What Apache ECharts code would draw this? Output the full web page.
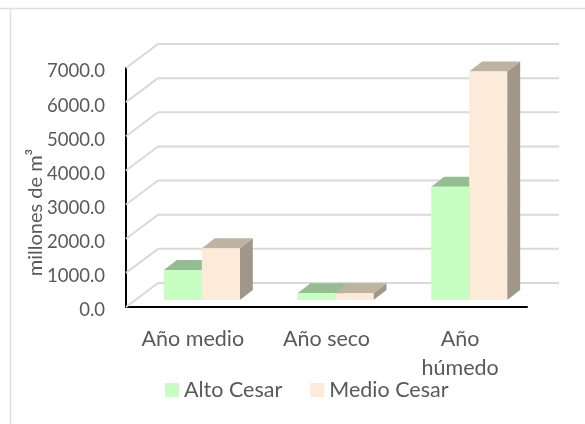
<!DOCTYPE html>
<html>
<head>
<meta charset="utf-8">
<style>
  html, body { margin: 0; padding: 0; background: #fff; }
  #chart { width: 585px; height: 424px; }
</style>
<script src="https://cdn.jsdelivr.net/npm/echarts@6/dist/echarts.min.js"></script>
</head>
<body>
<div id="chart"></div>
<script>
var categories = ['Año medio', 'Año seco', 'Año\nhúmedo'];
var altoCesar = [880, 195, 3320];
var medioCesar = [1515, 195, 6695];
var gridTicks = [0, 1000, 2000, 3000, 4000, 5000, 6000, 7000];

var fontName = 'Lato';
var textColor = '#595959';

// fake 3d: wall sits behind the axis plane, bars sit halfway in
var wallDx = 32, wallDy = -24;
var barDx = 9, barDy = -7;
var depthDx = 13, depthDy = -10;
var barW = 38;

var mychart = echarts.init(document.getElementById('chart'));

function wallItem(params, api) {
    var p = api.coord([0, api.value(0)]);
    var rect = params.coordSys;
    var x0 = rect.x, y0 = p[1];
    var x1 = x0 + wallDx, y1 = y0 + wallDy;
    var style = { stroke: '#d9d9d9', lineWidth: 2, fill: 'none' };
    return {
        type: 'group',
        silent: true,
        children: [
            { type: 'line', shape: { x1: x0, y1: y0, x2: x1, y2: y1 }, style: style },
            { type: 'line', shape: { x1: x1, y1: y1, x2: x1 + rect.width, y2: y1 }, style: style }
        ]
    };
}

function barItem(offset, front, top, side) {
    return function (params, api) {
        var base = api.coord([api.value(0), 0]);
        var head = api.coord([api.value(0), api.value(1)]);
        var left = base[0] + barDx + offset * barW;
        var right = left + barW;
        var yb = base[1] + barDy;
        var yt = head[1] + barDy;
        return {
            type: 'group',
            children: [
                { type: 'polygon', shape: { points: [[right, yb], [right + depthDx, yb + depthDy], [right + depthDx, yt + depthDy], [right, yt]] }, style: { fill: side } },
                { type: 'polygon', shape: { points: [[left, yt], [left + depthDx, yt + depthDy], [right + depthDx, yt + depthDy], [right, yt]] }, style: { fill: top } },
                { type: 'rect', shape: { x: left, y: yt, width: barW, height: yb - yt }, style: { fill: front } }
            ]
        };
    };
}

var option = {
    backgroundColor: '#fff',
    animation: false,
    textStyle: { fontFamily: fontName },
    graphic: [
        { type: 'line', shape: { x1: 0, y1: 8.5, x2: 585, y2: 8.5 }, style: { stroke: '#dedede', lineWidth: 1.5 } },
        { type: 'line', shape: { x1: 10.5, y1: 8, x2: 10.5, y2: 424 }, style: { stroke: '#dedede', lineWidth: 1.5 } }
    ],
    grid: { left: 126, right: 58, top: 68, bottom: 117 },
    legend: {
        left: 165,
        top: 379,
        padding: 0,
        itemWidth: 14,
        itemHeight: 14,
        itemGap: 28,
        icon: 'rect',
        textStyle: { fontFamily: fontName, fontSize: 21.5, color: textColor },
        data: ['Alto Cesar', 'Medio Cesar']
    },
    xAxis: {
        type: 'category',
        data: categories,
        axisTick: { show: false },
        axisLine: { lineStyle: { color: '#000', width: 2 } },
        axisLabel: { fontFamily: fontName, fontSize: 21.5, color: textColor, margin: 18, lineHeight: 29, interval: 0 }
    },
    yAxis: {
        type: 'value',
        min: 0,
        max: 7000,
        interval: 1000,
        name: 'millones de m³',
        nameLocation: 'middle',
        nameGap: 80,
        nameMoveOverlap: false,
        nameTextStyle: { fontFamily: fontName, fontSize: 20, color: textColor, padding: [0, 50, 0, 0] },
        splitLine: { show: false },
        axisTick: { show: false },
        axisLine: { show: true, lineStyle: { color: '#000', width: 2 } },
        axisLabel: {
            fontFamily: fontName, fontSize: 18.5, color: textColor, margin: 21,
            verticalAlign: 'top', lineHeight: 7,
            formatter: function (v) { return v.toFixed(1); }
        }
    },
    series: [
        {
            type: 'custom',
            coordinateSystem: 'cartesian2d',
            z: 1,
            encode: { y: 0 },
            data: gridTicks.map(function (v) { return [v]; }),
            renderItem: wallItem,
            silent: true
        },
        {
            name: 'Alto Cesar',
            type: 'custom',
            coordinateSystem: 'cartesian2d',
            z: 2,
            itemStyle: { color: '#c6ffc1' },
            encode: { x: 0, y: 1 },
            data: altoCesar.map(function (v, i) { return [i, v]; }),
            renderItem: barItem(-1, '#c6ffc1', '#95bd92', '#93a88f')
        },
        {
            name: 'Medio Cesar',
            type: 'custom',
            coordinateSystem: 'cartesian2d',
            z: 3,
            itemStyle: { color: '#fdebd9' },
            encode: { x: 0, y: 1 },
            data: medioCesar.map(function (v, i) { return [i, v]; }),
            renderItem: barItem(0, '#fdebd9', '#beb3a0', '#a0968a')
        }
    ]
};

mychart.setOption(option);
</script>
</body>
</html>
